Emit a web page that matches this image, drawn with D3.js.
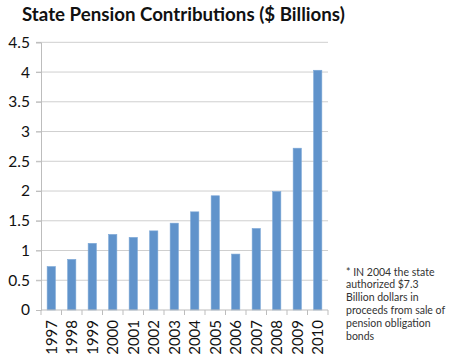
<!DOCTYPE html>
<html><head><meta charset="utf-8">
<script src="https://cdn.jsdelivr.net/npm/d3@7"></script>
<style>body{margin:0;background:#fff}svg{display:block}</style>
</head><body>
<script>
const years = ["1997","1998","1999","2000","2001","2002","2003","2004","2005","2006","2007","2008","2009","2010"];
const contributions = [0.73,0.85,1.12,1.27,1.22,1.33,1.46,1.65,1.92,0.94,1.37,1.99,2.72,4.03];
const yTicks = [0,0.5,1,1.5,2,2.5,3,3.5,4,4.5];
const titleText = "State Pension Contributions ($ Billions)";
const noteLines = ["* IN 2004 the state","authorized $7.3","Billion dollars in","proceeds from sale of","pension obligation","bonds"];

(function(){
const W=450,H=358;
const svg=d3.select("body").append("svg").attr("width",W).attr("height",H);
const font="Lato, 'Open Sans', sans-serif";
const pl=41,pr=328,pt=42.3,pb=310;
const x=d3.scaleBand().domain(years).range([pl,pr]).paddingInner(0.6).paddingOuter(0.3);
const y=d3.scaleLinear().domain([0,4.5]).range([pb,pt]);

svg.append("g").selectAll("line").data(yTicks.filter(d=>d>0)).join("line")
 .attr("x1",pl-5).attr("x2",pr).attr("y1",d=>y(d)).attr("y2",d=>y(d))
 .attr("stroke","#cfcfcf").attr("stroke-width",1);
const ya=svg.append("g").attr("transform",`translate(${pl},0)`).call(d3.axisLeft(y).tickValues(yTicks).tickFormat(d3.format("")).tickSize(5).tickPadding(6));
ya.select(".domain").attr("stroke","#bdbdbd");
ya.selectAll(".tick line").attr("stroke","#bdbdbd");
ya.selectAll("text").attr("font-family",font).attr("font-size",15.5).attr("fill","#111");

svg.append("g").selectAll("rect").data(years).join("rect")
 .attr("x",d=>x(d)).attr("width",x.bandwidth())
 .attr("y",(d,i)=>y(contributions[i])).attr("height",(d,i)=>y(0)-y(contributions[i]))
 .attr("fill","#6093cb").attr("stroke","#7aa6d6").attr("stroke-width",0.6);

const step=(pr-pl)/years.length;
const xa=svg.append("g");
xa.append("line").attr("x1",pl).attr("x2",pr).attr("y1",pb).attr("y2",pb).attr("stroke","#bdbdbd");
xa.selectAll("line.t").data(d3.range(years.length+1)).join("line").attr("class","t")
 .attr("x1",i=>pl+i*step).attr("x2",i=>pl+i*step).attr("y1",pb).attr("y2",pb+5).attr("stroke","#bdbdbd");
xa.selectAll("text").data(years).join("text")
 .attr("transform",d=>`translate(${x(d)+x.bandwidth()/2+5.5},${pb+10}) rotate(-90)`)
 .attr("text-anchor","end").attr("font-family",font).attr("font-size",15).attr("fill","#111").text(d=>d);

svg.append("text").attr("x",22).attr("y",21).attr("font-family",font).attr("font-weight","bold")
 .attr("font-size",18.7).attr("fill","#111").text(titleText);

svg.append("g").selectAll("text").data(noteLines).join("text")
 .attr("x",346).attr("y",(d,i)=>275.5+i*12.8).attr("font-family",font).attr("font-size",10.5).attr("fill","#333").text(d=>d);
})();
</script>
</body></html>
